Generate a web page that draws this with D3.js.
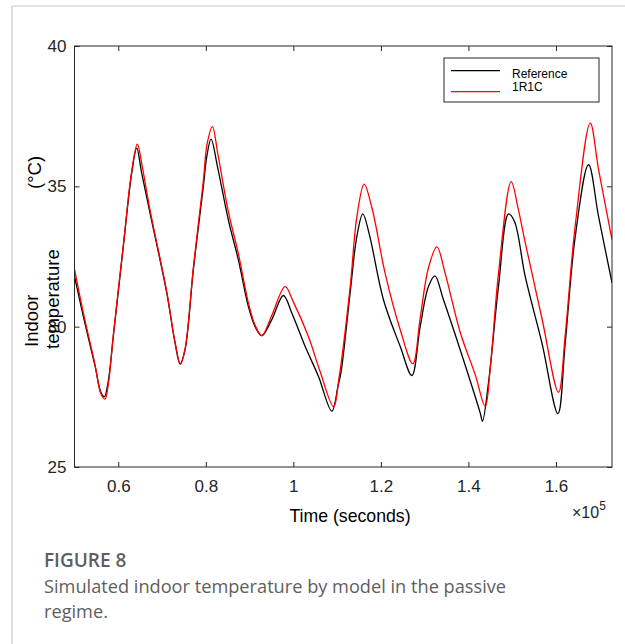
<!DOCTYPE html>
<html>
<head>
<meta charset="utf-8">
<script src="https://cdn.jsdelivr.net/npm/d3@7"></script>
<style>
  body { margin: 0; background: #fff; }
  .caption { font-family: "Open Sans", sans-serif; fill: #5e5e5e; }
</style>
</head>
<body>
<div class="chart"></div>
<script>
// data (time in seconds, temperature in degC)
const seriesNames = ["Reference", "1R1C"];
const seriesColors = ["#000000", "#ff0000"];

const refTime = [50000, 52011, 54686, 56057, 56811, 57657, 58869, 61154, 63074, 64217, 65314, 67257, 71074, 72971, 74114,
  75257, 77154, 79440, 80217, 81200, 82731, 85154, 87440, 89726, 91257, 92789, 95074, 97726, 99646, 102686, 105726,
  108789, 110229, 110914, 112971, 114503, 115874, 117383, 120583, 124400, 127074, 128971, 130869, 132331, 134297,
  138114, 142686, 143211, 144583, 146869, 149154, 150526, 152971, 156789, 160446, 162114, 164400, 167440, 169726, 172800];
const refTemp = [31.8, 30.37, 28.6, 27.65, 27.5, 28.0, 29.65, 32.86, 35.47, 36.36, 35.5, 34.05, 31.2, 29.42, 28.67,
  29.18, 32.03, 35.0, 36.06, 36.68, 35.65, 33.8, 32.38, 30.72, 30.0, 29.68, 30.25, 31.11, 30.49, 29.3, 28.23,
  26.99, 27.9, 28.4, 31.2, 33.21, 34.02, 33.27, 30.96, 29.3, 28.26, 30.0, 31.43, 31.81, 30.96,
  29.18, 26.93, 26.63, 28.0, 31.43, 34.02, 33.75, 31.79, 29.42, 26.9, 29.42, 33.21, 35.77, 33.93, 31.56];

const rcTime = [50000, 52011, 54686, 56057, 56971, 57771, 58869, 61154, 63074, 64354, 65429, 67257, 71074, 72971, 74229,
  75257, 77154, 79440, 80286, 81497, 82800, 85154, 87440, 89726, 91257, 92789, 95074, 98114, 99943, 103440, 106114,
  109154, 110457, 112971, 114503, 116171, 118000, 120971, 124400, 127303, 128971, 130869, 132789, 134686, 138114,
  141543, 143829, 144971, 146869, 149771, 151371, 152971, 156789, 160583, 162114, 164400, 167829, 169726, 172800];
const rcTemp = [32.05, 30.5, 28.65, 27.6, 27.42, 28.0, 29.7, 32.9, 35.55, 36.5, 35.75, 34.15, 31.25, 29.45, 28.67,
  29.2, 32.1, 35.2, 36.5, 37.13, 36.1, 34.1, 32.6, 30.85, 30.05, 29.68, 30.4, 31.43, 30.9, 29.65, 28.4,
  27.16, 28.2, 31.4, 33.9, 35.08, 34.2, 31.9, 29.9, 28.68, 30.3, 32.1, 32.84, 31.9, 29.8,
  28.29, 27.16, 28.5, 31.9, 35.17, 34.2, 33.0, 30.3, 27.66, 29.7, 33.6, 37.25, 35.6, 33.1];

const xTicks = [60000, 80000, 100000, 120000, 140000, 160000];
const yTicks = [25, 30, 35, 40];

const W = 625, H = 644;
const font = '"Liberation Sans", Arial, sans-serif';
const svg = d3.select('.chart').append('svg')
            .attr('width', W)
            .attr('height', H);

// page frame
svg.append('path')
    .attr('d', `M12,${H + 5} L12,6 L${W + 5},6`)
    .attr('fill', 'none')
    .attr('stroke', '#c9c9c9')
    .attr('stroke-width', 1.2);

const plot = { left: 74.5, right: 612, top: 46, bottom: 467 };

const xScale = d3.scaleLinear().domain([50000, 172800]).range([plot.left, plot.right]);
const yScale = d3.scaleLinear().domain([25, 40]).range([plot.bottom, plot.top]);

// axes, ticks pointing inward like matlab
const xAxis = svg.append('g')
    .attr('transform', `translate(0,${plot.bottom})`)
    .call(d3.axisBottom(xScale).tickValues(xTicks).tickSizeInner(-5).tickSizeOuter(0).tickPadding(12.5)
        .tickFormat(d => +(d / 1e5).toFixed(1)));
const xAxisTop = svg.append('g')
    .attr('transform', `translate(0,${plot.top})`)
    .call(d3.axisTop(xScale).tickValues(xTicks).tickSizeInner(-5).tickSizeOuter(0).tickFormat(''));
const yAxis = svg.append('g')
    .attr('transform', `translate(${plot.left},0)`)
    .call(d3.axisLeft(yScale).tickValues(yTicks).tickSizeInner(-5).tickSizeOuter(0).tickPadding(8));
const yAxisRight = svg.append('g')
    .attr('transform', `translate(${plot.right},0)`)
    .call(d3.axisRight(yScale).tickValues(yTicks).tickSizeInner(-5).tickSizeOuter(0).tickFormat(''));

[xAxis, xAxisTop, yAxis, yAxisRight].forEach(g => {
    g.attr('font-family', font).attr('font-size', 17);
    g.select('.domain').remove();
    g.selectAll('.tick line').attr('stroke', '#262626');
    g.selectAll('.tick text').attr('fill', '#262626');
});

// clip for the lines
svg.append('clipPath').attr('id', 'clip')
    .append('rect')
    .attr('x', plot.left).attr('y', plot.top)
    .attr('width', plot.right - plot.left).attr('height', plot.bottom - plot.top);

const line = d3.line()
    .x(d => xScale(d[0]))
    .y(d => yScale(d[1]))
    .curve(d3.curveCatmullRom.alpha(0.5));

const series = [
    d3.zip(refTime, refTemp),
    d3.zip(rcTime, rcTemp)
];

// reference first, then 1R1C on top
svg.append('g').attr('clip-path', 'url(#clip)')
    .selectAll('path')
    .data(series)
    .enter()
    .append('path')
    .attr('d', line)
    .attr('fill', 'none')
    .attr('stroke', (d, i) => seriesColors[i])
    .attr('stroke-width', 1.3)
    .attr('stroke-linejoin', 'round');

// box
svg.append('rect')
    .attr('x', plot.left).attr('y', plot.top)
    .attr('width', plot.right - plot.left).attr('height', plot.bottom - plot.top)
    .attr('fill', 'none')
    .attr('stroke', '#262626')
    .attr('stroke-width', 1);

// legend
const legend = svg.append('g');
legend.append('rect')
    .attr('x', 444).attr('y', 58)
    .attr('width', 155).attr('height', 44)
    .attr('fill', '#fff')
    .attr('stroke', '#262626')
    .attr('stroke-width', 1);
const lineY = [70.7, 91.7];
const textY = [77.5, 91];
legend.selectAll('line')
    .data(seriesNames)
    .enter()
    .append('line')
    .attr('x1', 451).attr('x2', 500)
    .attr('y1', (d, i) => lineY[i]).attr('y2', (d, i) => lineY[i])
    .attr('stroke', (d, i) => seriesColors[i])
    .attr('stroke-width', 1.3);
legend.selectAll('text')
    .data(seriesNames)
    .enter()
    .append('text')
    .text(d => d)
    .attr('x', 512)
    .attr('y', (d, i) => textY[i])
    .attr('font-family', font)
    .attr('font-size', 12)
    .attr('fill', '#000');

// axis labels
svg.append('text')
    .text('Time (seconds)')
    .attr('x', 350).attr('y', 522)
    .attr('text-anchor', 'middle')
    .attr('font-family', font)
    .attr('font-size', 17.7)
    .attr('fill', '#000');

const expo = svg.append('text')
    .attr('x', 572).attr('y', 518)
    .attr('font-family', font)
    .attr('font-size', 16)
    .attr('fill', '#262626');
expo.append('tspan').text('\u00d710');
expo.append('tspan').text('5').attr('dy', -8).attr('font-size', 12);

const ylab = svg.append('g')
    .attr('font-family', font)
    .attr('font-size', 18.5)
    .attr('fill', '#000');
ylab.append('text').text('Indoor')
    .attr('transform', 'translate(38,347) rotate(-90)');
ylab.append('text').text('(\u00b0C)')
    .attr('transform', 'translate(41,189) rotate(-90)');
ylab.append('text').text('temperature')
    .attr('transform', 'translate(59,349) rotate(-90)');

// caption
svg.append('text').classed('caption', true)
    .text('FIGURE 8')
    .attr('x', 44).attr('y', 567)
    .attr('font-size', 19)
    .attr('font-weight', 600);
const captionLines = ['Simulated indoor temperature by model in the passive', 'regime.'];
svg.selectAll('.capline')
    .data(captionLines)
    .enter()
    .append('text')
    .attr('class', 'caption capline')
    .text(d => d)
    .attr('x', 44)
    .attr('y', (d, i) => 593 + i * 25)
    .attr('font-size', 18.2);
</script>
</body>
</html>
